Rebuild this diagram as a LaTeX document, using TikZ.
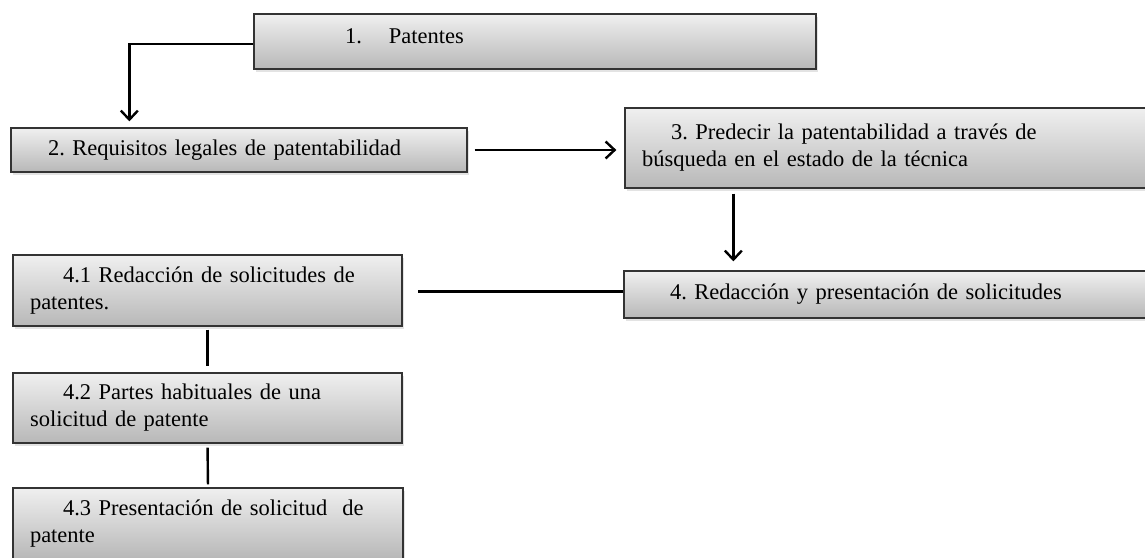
\documentclass[tikz,border=0pt]{standalone}
\usepackage{fontspec}
\setmainfont[WordSpace=0.6]{Liberation Serif}
\usetikzlibrary{positioning,shadows,arrows.meta}

\begin{document}
\frenchspacing
\begin{tikzpicture}[x=1pt,y=-1pt]
                    \tikzstyle{stage}=[draw=black!80,line width=1.3pt,rectangle,top color=black!6,bottom color=black!28,
                        drop shadow={shadow xshift=2pt,shadow yshift=-3pt,opacity=0.22},
                        align=left,inner xsep=17pt,inner ysep=0,font=\fontsize{22.5}{27}\selectfont]
                    \tikzstyle{link}=[line width=2.4pt,black]
                    \tikzstyle{flow}=[link,-{Straight Barb[length=9pt,width=17pt]}]
                    \useasboundingbox (0,0) rectangle (1145,557);
                    {
                        \node[stage,text width=528pt,minimum height=55pt,text height=15pt,text depth=12pt] (patentes) at (535,41.5)
                            {\hspace*{74pt}1.\hspace{27pt}Patentes};
                        \node[stage,text width=422pt,minimum height=44pt] (requisitos) at (239,150)
                            {\hspace*{20pt}2. Requisitos legales de patentabilidad};
                        \node[stage,text width=491pt,minimum height=80pt] (predecir) at (887.5,148)
                            {\hspace*{29pt}3. Predecir la patentabilidad a través de\\búsqueda en el estado de la técnica};
                        \node[stage,text width=492pt,minimum height=47pt] (redaccion) at (887,294.5)
                            {\hspace*{29pt}4. Redacción y presentación de solicitudes};
                        \node[stage,text width=355pt,minimum height=71pt] (sub1) at (207.5,290.5)
                            {\hspace*{33pt}4.1 Redacción de solicitudes de\\patentes.};
                        \node[stage,text width=355pt,minimum height=70pt] (sub2) at (207.5,408)
                            {\hspace*{33pt}4.2 Partes habituales de una\\solicitud de patente};
                        \node[stage,text width=356pt,minimum height=71pt] (sub3) at (208,523.5)
                            {\hspace*{33pt}4.3 Presentación de solicitud\ \ de\\patente};

                        % flechas
                        \draw[flow] ([yshift=-2.5pt]patentes.west) -| ([xshift=119pt]requisitos.north west)
                            [shorten >=6pt];
                        \draw[flow,shorten <=7pt,shorten >=8pt] (requisitos.east) -- (requisitos.east -| predecir.west);
                        \draw[flow,shorten <=5pt,shorten >=9pt] ([xshift=109pt]predecir.south west) -- ([xshift=110pt]redaccion.north west);

                        % lineas
                        \draw[link,shorten >=15pt] ([yshift=3pt]redaccion.west) -- ([yshift=3pt]redaccion.west -| sub1.east);
                        \draw[link,shorten <=3pt,shorten >=6pt] (sub1.south) -- (sub2.north);
                        \draw[link,shorten <=4pt,shorten >=3pt] (sub2.south) -- (sub3.north);
                    }
\end{tikzpicture}
\end{document}
